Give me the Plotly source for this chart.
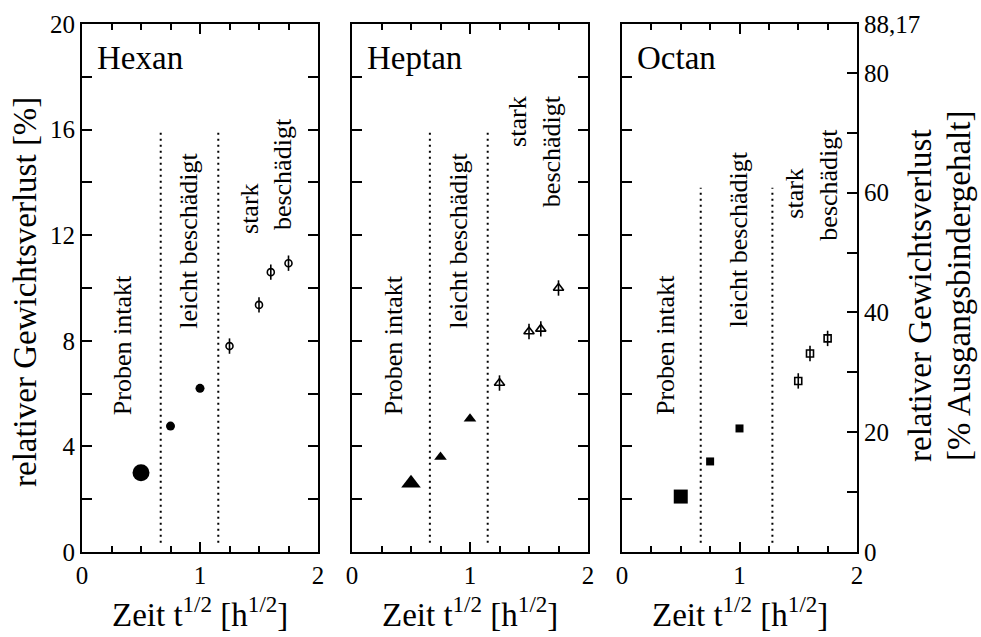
import plotly.graph_objects as go

W, H = 981, 637
FONT = "Liberation Serif"

# Messwerte: relativer Gewichtsverlust [%] über Zeit t^1/2 [h^1/2]
hexan_x = [0.5, 0.75, 1.0, 1.25, 1.5, 1.6, 1.75]
hexan_y = [3.0, 4.77, 6.2, 7.8, 9.36, 10.6, 10.94]
heptan_x = [0.5, 0.75, 1.0, 1.25, 1.5, 1.6, 1.75]
heptan_y = [2.6, 3.6, 5.05, 6.4, 8.35, 8.45, 10.0]
octan_x = [0.5, 0.75, 1.0, 1.5, 1.6, 1.75]
octan_y = [2.1, 3.43, 4.68, 6.48, 7.52, 8.09]

# Grenzen zwischen den Schadensbereichen (gepunktete Linien)
hexan_grenzen = [0.667, 1.155]
heptan_grenzen = [0.66, 1.15]
octan_grenzen = [0.67, 1.28]
grenz_oben = [16.0, 16.0, 13.8]
grenz_unten = 0.35

# Ausgangsbindergehalt: 20 % Gewichtsverlust entsprechen 88,17 %
rechts_max = 88.17

x_ticks = [0, 1, 2]
y_ticks = [0, 4, 8, 12, 16, 20]
y_rechts_ticks = [0, 20, 40, 60, 80, 88.17]
y_rechts_text = ["0", "20", "40", "60", "80", "88,17"]

panels = [
    dict(name="Hexan", x=hexan_x, y=hexan_y, grenzen=hexan_grenzen, sym="circle",
         big=17, small=9, opn=7,
         texte=[(0.34, 7.84, "Proben intakt"), (0.90, 11.8, "leicht beschädigt"),
                (1.415, 13.03, "stark"), (1.70, 14.3, "beschädigt")]),
    dict(name="Heptan", x=heptan_x, y=heptan_y, grenzen=heptan_grenzen, sym="triangle-up",
         big=17, small=11, opn=9,
         texte=[(0.35, 7.84, "Proben intakt"), (0.90, 11.8, "leicht beschädigt"),
                (1.40, 16.3, "stark"), (1.69, 15.2, "beschädigt")]),
    dict(name="Octan", x=octan_x, y=octan_y, grenzen=octan_grenzen, sym="square",
         big=14, small=8, opn=7,
         texte=[(0.366, 7.84, "Proben intakt"), (0.99, 11.85, "leicht beschädigt"),
                (1.47, 13.6, "stark"), (1.75, 13.9, "beschädigt")]),
]

x_dom = [(82, 318), (352, 588), (622, 857)]
y_dom = (24, 552)

fig = go.Figure()
annotations = []

for i, p in enumerate(panels):
    xa = "x" if i == 0 else f"x{i + 1}"
    ya = "y" if i == 0 else f"y{i + 1}"
    # Grenzlinien
    for g in p["grenzen"]:
        fig.add_trace(go.Scatter(x=[g, g], y=[grenz_unten, grenz_oben[i]], mode="lines",
                                 line=dict(color="black", width=2, dash="2px,4px"),
                                 xaxis=xa, yaxis=ya, showlegend=False, hoverinfo="skip"))
    # erster Messpunkt (groß)
    fig.add_trace(go.Scatter(x=p["x"][:1], y=p["y"][:1], mode="markers",
                             marker=dict(symbol=p["sym"], size=p["big"], color="black"),
                             xaxis=xa, yaxis=ya, showlegend=False))
    # Messpunkte im Bereich intakt / leicht beschädigt
    fig.add_trace(go.Scatter(x=p["x"][1:3], y=p["y"][1:3], mode="markers",
                             marker=dict(symbol=p["sym"], size=p["small"], color="black"),
                             xaxis=xa, yaxis=ya, showlegend=False))
    # Messpunkte stark beschädigt (offen, mit senkrechtem Strich)
    fig.add_trace(go.Scatter(x=p["x"][3:], y=p["y"][3:], mode="markers",
                             marker=dict(symbol=p["sym"] + "-open", size=p["opn"], color="black",
                                         line=dict(width=1.6, color="black")),
                             xaxis=xa, yaxis=ya, showlegend=False))
    fig.add_trace(go.Scatter(x=p["x"][3:], y=p["y"][3:], mode="markers",
                             marker=dict(symbol="line-ns-open", size=11, color="black",
                                         line=dict(width=1.6, color="black")),
                             xaxis=xa, yaxis=ya, showlegend=False))
    # Beschriftungen
    annotations.append(dict(x=0.11, y=18.7, xref=xa, yref=ya, text=p["name"], showarrow=False,
                            xanchor="left", yanchor="middle",
                            font=dict(family=FONT, size=33, color="black")))
    for tx, ty, t in p["texte"]:
        annotations.append(dict(x=tx, y=ty, xref=xa, yref=ya, text=t, showarrow=False,
                                textangle=-90, xanchor="center", yanchor="middle",
                                font=dict(family=FONT, size=26, color="black")))
    # x-Achsentitel
    cx = (x_dom[i][0] + x_dom[i][1]) / 2
    annotations.append(dict(x=cx / W, y=1 - 612 / H, xref="paper", yref="paper",
                            text="Zeit t<sup>1/2</sup> [h<sup>1/2</sup>]", showarrow=False,
                            xanchor="center", yanchor="middle",
                            font=dict(family=FONT, size=33, color="black")))

# y-Achsentitel
annotations.append(dict(x=25 / W, y=1 - 292 / H, xref="paper", yref="paper",
                        text="relativer Gewichtsverlust [%]", textangle=-90, showarrow=False,
                        xanchor="center", yanchor="middle",
                        font=dict(family=FONT, size=33, color="black")))
annotations.append(dict(x=920 / W, y=1 - 296 / H, xref="paper", yref="paper",
                        text="relativer Gewichtsverlust", textangle=-90, showarrow=False,
                        xanchor="center", yanchor="middle",
                        font=dict(family=FONT, size=33, color="black")))
annotations.append(dict(x=959 / W, y=1 - 286 / H, xref="paper", yref="paper",
                        text="[% Ausgangsbindergehalt]", textangle=-90, showarrow=False,
                        xanchor="center", yanchor="middle",
                        font=dict(family=FONT, size=33, color="black")))

tickfont = dict(family=FONT, size=25, color="black")

def x_axis(i):
    return dict(domain=[x_dom[i][0] / W, x_dom[i][1] / W], range=[0, 2],
                tickmode="array", tickvals=x_ticks, ticktext=[str(v) for v in x_ticks],
                ticks="inside", ticklen=10, tickwidth=1.5, tickcolor="black",
                showline=True, linewidth=2, linecolor="black", mirror="ticks",
                showgrid=False, zeroline=False, tickfont=tickfont, automargin=False,
                anchor="y" if i == 0 else f"y{i + 1}",
                minor=dict(dtick=0.25, tick0=0, ticks="inside", ticklen=6, tickwidth=1.5,
                           tickcolor="black", showgrid=False))

def y_axis(i):
    return dict(domain=[1 - y_dom[1] / H, 1 - y_dom[0] / H], range=[0, 20],
                tickmode="array", tickvals=y_ticks, ticktext=[str(v) for v in y_ticks],
                showticklabels=(i == 0),
                ticks="inside", ticklen=10, tickwidth=1.5, tickcolor="black",
                showline=True, linewidth=2, linecolor="black",
                mirror=("ticks" if i < 2 else True),
                showgrid=False, zeroline=False, tickfont=tickfont, automargin=False,
                anchor="x" if i == 0 else f"x{i + 1}",
                minor=dict(dtick=2, tick0=0, ticks="inside", ticklen=10, tickwidth=1.5,
                           tickcolor="black", showgrid=False))

# rechte Achse (Ausgangsbindergehalt) an Panel 3
fig.add_trace(go.Scatter(x=[None], y=[None], xaxis="x3", yaxis="y4",
                         showlegend=False, hoverinfo="skip"))

fig.update_layout(
    width=W, height=H,
    margin=dict(l=0, r=0, t=0, b=0, autoexpand=False),
    paper_bgcolor="white", plot_bgcolor="white",
    showlegend=False,
    xaxis=x_axis(0), xaxis2=x_axis(1), xaxis3=x_axis(2),
    yaxis=y_axis(0), yaxis2=y_axis(1), yaxis3=y_axis(2),
    yaxis4=dict(overlaying="y3", anchor="x3", side="right", range=[0, rechts_max],
                tickmode="array", tickvals=y_rechts_ticks, ticktext=y_rechts_text,
                ticks="inside", ticklen=10, tickwidth=1.5, tickcolor="black",
                showline=True, linewidth=2, linecolor="black", automargin=False,
                showgrid=False, zeroline=False, tickfont=tickfont,
                minor=dict(tickvals=[10, 30, 50, 70], ticks="inside", ticklen=10,
                           tickwidth=1.5, tickcolor="black", showgrid=False)),
    annotations=annotations,
    font=dict(family=FONT, color="black"),
)

fig.write_html("out.html")
